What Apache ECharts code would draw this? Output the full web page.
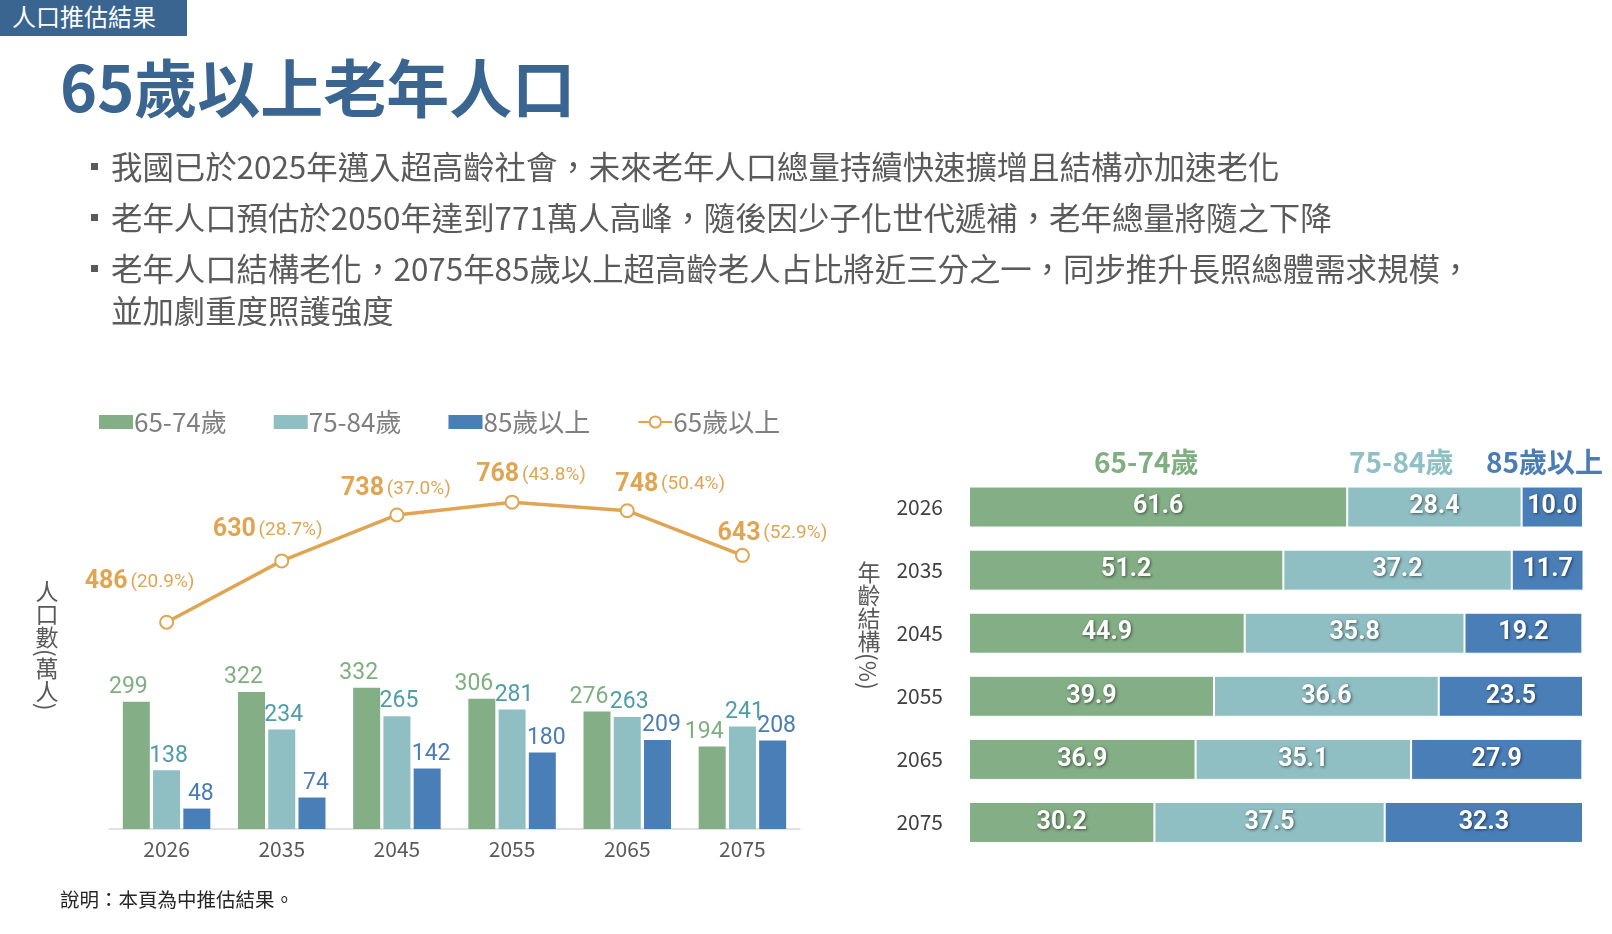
<!DOCTYPE html>
<html>
<head>
<meta charset="utf-8">
<title>65歲以上老年人口</title>
<script src="https://cdn.jsdelivr.net/npm/echarts@6/dist/echarts.min.js"></script>
<style>
  html, body { margin: 0; padding: 0; background: #fff; }
  body { width: 1612px; height: 934px; position: relative; overflow: hidden;
         font-family: "Noto Sans CJK TC", "Noto Sans", sans-serif; }
  #main { position: absolute; left: 0; top: 0; width: 1612px; height: 934px; }
  .txt { position: absolute; white-space: nowrap; pointer-events: none; z-index: 2; }
  #tag { left: 0; top: 0; width: 187px; height: 36px; background: #3a6591; color: #fff;
         font-size: 24px; line-height: 32px; padding-left: 12px; box-sizing: border-box; }
  #title { left: 60px; top: 53px; font-size: 63px; line-height: 63px; font-weight: 700;
           color: #3a6591; }
  .bl { left: 111px; font-size: 31.4px; line-height: 42px; color: #5a5a5a; }
  .sq { position: absolute; left: 91px; width: 7px; height: 7px; background: #595959; z-index: 2; }
  .vt { writing-mode: vertical-rl; font-size: 23px; color: #595959; line-height: 23px; }
  #note { left: 60px; top: 887px; font-size: 19.5px; line-height: 24px; color: #262626; }
</style>
</head>
<body>
<div id="main"></div>
<div class="txt" id="tag">人口推估結果</div>
<div class="txt" id="title">65歲以上老年人口</div>
<div class="sq" style="top:163px"></div>
<div class="txt bl" style="top:145px">我國已於2025年邁入超高齡社會，未來老年人口總量持續快速擴增且結構亦加速老化</div>
<div class="sq" style="top:214px"></div>
<div class="txt bl" style="top:196px">老年人口預估於2050年達到771萬人高峰，隨後因少子化世代遞補，老年總量將隨之下降</div>
<div class="sq" style="top:265px"></div>
<div class="txt bl" style="top:247px">老年人口結構老化，2075年85歲以上超高齡老人占比將近三分之一，同步推升長照總體需求規模，</div>
<div class="txt bl" style="top:289px">並加劇重度照護強度</div>
<div class="txt vt" style="left:35px; top:580px">人口數(萬人)</div>
<div class="txt vt" style="left:857px; top:561px">年齡結構(%)</div>
<div class="txt" id="note">說明：本頁為中推估結果。</div>
<script>
// 數據
var years = ['2026', '2035', '2045', '2055', '2065', '2075'];
var age6574 = [299, 322, 332, 306, 276, 194];
var age7584 = [138, 234, 265, 281, 263, 241];
var age85 = [48, 74, 142, 180, 209, 208];
var total65 = [486, 630, 738, 768, 748, 643];
var share65 = [20.9, 28.7, 37.0, 43.8, 50.4, 52.9];
var pct6574 = [61.6, 51.2, 44.9, 39.9, 36.9, 30.2];
var pct7584 = [28.4, 37.2, 35.8, 36.6, 35.1, 37.5];
var pct85 = [10.0, 11.7, 19.2, 23.5, 27.9, 32.3];

var GREEN = '#84ae85', TEAL = '#8fbec3', BLUE = '#4a7eb7', ORANGE = '#e0a553';
var NUM_FONT = 'Roboto, "Liberation Sans", sans-serif';
// 折線標籤的位移(版面用)
var lineLabelShift = [[-27, -40], [-14, -31], [-1, -26], [19, -27], [43, -26], [30, -22]];

var myChart = echarts.init(document.getElementById('main'));

function barLabel(color, dx) {
    return {
        show: true, position: 'top', distance: 3, offset: [dx, 0],
        color: color, fontSize: 23, fontFamily: NUM_FONT
    };
}

function stackLabel() {
    return {
        show: true, position: 'inside', color: '#fff', fontSize: 25, fontWeight: 'bold',
        fontFamily: NUM_FONT,
        textShadowColor: 'rgba(0,0,0,0.55)', textShadowBlur: 3,
        textShadowOffsetX: 1, textShadowOffsetY: 1,
        formatter: function (p) { return p.value.toFixed(1); }
    };
}

var option = {
    animation: false,
    textStyle: { fontFamily: '"Noto Sans CJK TC", "Noto Sans", sans-serif' },
    legend: {
        left: 99, top: 409, padding: 0,
        itemWidth: 34, itemHeight: 14, itemGap: 47,
        textStyle: { color: '#7f7f7f', fontSize: 26, padding: [0, 0, 0, -4] },
        data: [
            { name: '65-74歲', icon: 'rect' },
            { name: '75-84歲', icon: 'rect' },
            { name: '85歲以上', icon: 'rect' },
            { name: '65歲以上' }
        ]
    },
    grid: [
        { left: 109, right: 812, top: 446, bottom: 105 },
        { left: 969, right: 29, top: 475.5, bottom: 80 }
    ],
    xAxis: [
        {
            gridIndex: 0, type: 'category', data: years,
            axisLine: { lineStyle: { color: '#d9d9d9', width: 1.5 } },
            axisTick: { show: false },
            axisLabel: { color: '#595959', fontSize: 21, margin: 10 }
        },
        { gridIndex: 1, type: 'value', min: 0, max: 100, show: false }
    ],
    yAxis: [
        { gridIndex: 0, type: 'value', min: 0, max: 900, show: false },
        {
            gridIndex: 1, type: 'category', data: years, inverse: true,
            axisLine: { show: false }, axisTick: { show: false },
            axisLabel: { color: '#404040', fontSize: 21, margin: 26 }
        }
    ],
    graphic: [
        { type: 'text', left: 1094, top: 448, style: { text: '65-74歲', fill: '#7fae80', font: 'bold 28px "Noto Sans CJK TC"' } },
        { type: 'text', left: 1349, top: 448, style: { text: '75-84歲', fill: '#8ec0c4', font: 'bold 28px "Noto Sans CJK TC"' } },
        { type: 'text', left: 1486, top: 448, style: { text: '85歲以上', fill: '#4a7db5', font: 'bold 28px "Noto Sans CJK TC"' } }
    ],
    series: [
        {
            name: '65-74歲', type: 'bar', xAxisIndex: 0, yAxisIndex: 0,
            data: age6574, barWidth: 27, barGap: '12%',
            itemStyle: { color: GREEN }, label: barLabel('#7faf80', -8)
        },
        {
            name: '75-84歲', type: 'bar', xAxisIndex: 0, yAxisIndex: 0,
            data: age7584, barWidth: 27, barGap: '12%',
            itemStyle: { color: TEAL }, label: barLabel('#4e9da7', 2)
        },
        {
            name: '85歲以上', type: 'bar', xAxisIndex: 0, yAxisIndex: 0,
            data: age85, barWidth: 27, barGap: '12%',
            itemStyle: { color: BLUE }, label: barLabel('#4a7db5', 4)
        },
        {
            name: '65歲以上', type: 'line', xAxisIndex: 0, yAxisIndex: 0,
            data: total65.map(function (v, i) {
                return { value: v, label: { offset: lineLabelShift[i] } };
            }),
            symbol: 'circle', symbolSize: 13,
            lineStyle: { color: ORANGE, width: 3.5 },
            itemStyle: { color: '#fff', borderColor: ORANGE, borderWidth: 2 },
            label: {
                show: true, position: 'inside',
                formatter: function (p) {
                    return '{a|' + p.value + '} {b|(' + share65[p.dataIndex].toFixed(1) + '%)}';
                },
                rich: {
                    a: { color: ORANGE, fontSize: 25, fontWeight: 'bold', fontFamily: NUM_FONT },
                    b: { color: ORANGE, fontSize: 19, fontFamily: NUM_FONT }
                }
            },
            z: 5
        },
        {
            name: 'p1', type: 'bar', xAxisIndex: 1, yAxisIndex: 1, stack: 'pct',
            data: pct6574, barWidth: 41,
            itemStyle: { color: GREEN, borderColor: '#fff', borderWidth: 1 }, label: stackLabel()
        },
        {
            name: 'p2', type: 'bar', xAxisIndex: 1, yAxisIndex: 1, stack: 'pct',
            data: pct7584, barWidth: 41,
            itemStyle: { color: TEAL, borderColor: '#fff', borderWidth: 1 }, label: stackLabel()
        },
        {
            name: 'p3', type: 'bar', xAxisIndex: 1, yAxisIndex: 1, stack: 'pct',
            data: pct85, barWidth: 41,
            itemStyle: { color: BLUE, borderColor: '#fff', borderWidth: 1 }, label: stackLabel()
        }
    ]
};

myChart.setOption(option);
</script>
</body>
</html>
